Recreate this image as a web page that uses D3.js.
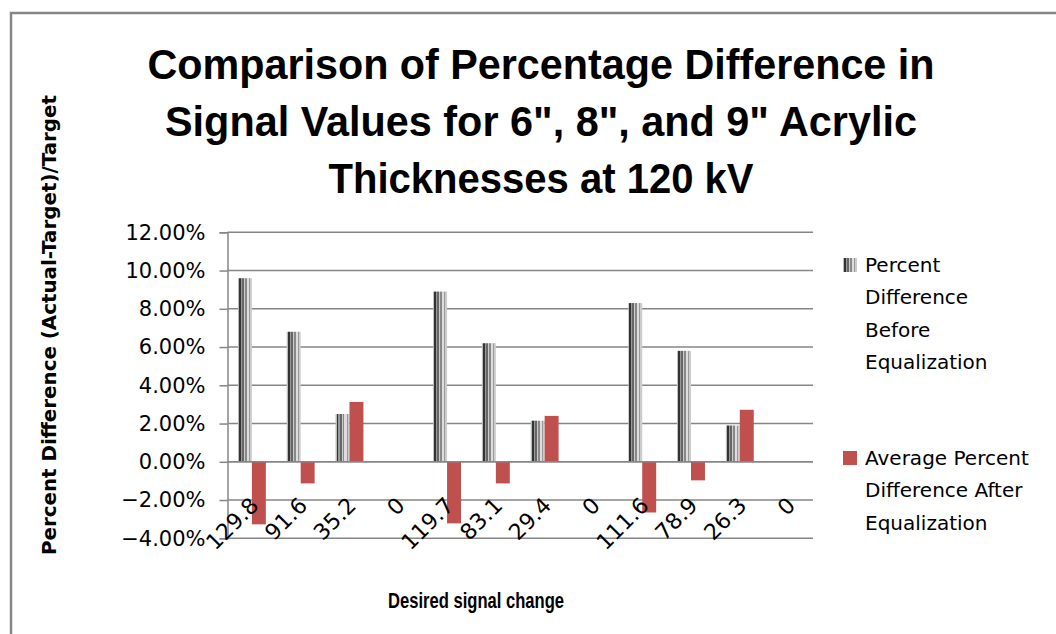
<!DOCTYPE html>
<html>
<head>
<meta charset="utf-8">
<script src="https://cdn.jsdelivr.net/npm/d3@7"></script>
<style>
  body { margin: 0; background: #fff; }
  svg { display: block; }
</style>
</head>
<body>
<div id="chart"></div>
<script>
var width = 1056,
    height = 634;

// data (percent)
var categories = ["129.8", "91.6", "35.2", "0", "119.7", "83.1", "29.4", "0", "111.6", "78.9", "26.3", "0"];
var beforeEq = [9.6, 6.8, 2.5, null, 8.9, 6.2, 2.15, null, 8.3, 5.8, 1.9, null];
var afterEq = [-3.27, -1.13, 3.13, null, -3.22, -1.13, 2.4, null, -2.65, -0.97, 2.72, null];
var seriesNames = ["Percent Difference Before Equalization", "Average Percent Difference After Equalization"];
var yTicks = [-4, -2, 0, 2, 4, 6, 8, 10, 12];

var titleLines = ["Comparison of Percentage Difference in", "Signal Values for 6\", 8\", and 9\" Acrylic", "Thicknesses at 120 kV"];
var titleWidths = [787, 752, 425];

var plot = {left: 227.5, right: 813, top: 232.3, bottom: 538.3};
var gridColor = "#868686",
    red = "#C0504D";

var svg = d3.select("#chart")
  .append("svg")
    .attr("width", width)
    .attr("height", height);

svg.append("rect").attr("width", width).attr("height", height).attr("fill", "#fff");

// striped fill for the "before" series
var defs = svg.append("defs");
var stripes = [["#bbb", 0], ["#333", 0.07], ["#999", 0.21], ["#666", 0.29], ["#ccc", 0.43], ["#888", 0.5], ["#ddd", 0.64], ["#999", 0.79], ["#ccc", 0.86]];
var grad = defs.append("linearGradient").attr("id", "stripes")
  .attr("x1", 0).attr("x2", 1).attr("y1", 0).attr("y2", 0);
stripes.forEach(function(s, i) {
  var end = i + 1 < stripes.length ? stripes[i + 1][1] : 1;
  grad.append("stop").attr("offset", s[1]).attr("stop-color", s[0]);
  grad.append("stop").attr("offset", end).attr("stop-color", s[0]);
});

// chart border (left and top visible)
svg.append("path")
  .attr("d", "M11,634 L11,13 L1056,13")
  .attr("fill", "none")
  .attr("stroke", gridColor)
  .attr("stroke-width", 2.5);

// scales
var x0 = d3.scaleBand()
  .domain(d3.range(categories.length))
  .range([plot.left, plot.right])
  .paddingInner(1.5 / 3.5)
  .paddingOuter(0.75 / 3.5);

var x1 = d3.scaleBand()
  .domain([0, 1])
  .range([0, x0.bandwidth()]);

var y = d3.scaleLinear()
  .domain([-4, 12])
  .range([plot.bottom, plot.top]);

// gridlines
svg.append("g")
  .selectAll("line")
  .data(yTicks)
  .join("line")
    .attr("x1", plot.left)
    .attr("x2", plot.right)
    .attr("y1", function(d) { return y(d); })
    .attr("y2", function(d) { return y(d); })
    .attr("stroke", gridColor)
    .attr("stroke-width", 1.5);

// y axis
var yAxis = svg.append("g")
  .attr("transform", "translate(" + plot.left + ",0)")
  .call(d3.axisLeft(y)
    .tickValues(yTicks)
    .tickSize(8)
    .tickPadding(14)
    .tickFormat(function(d) { return d3.format(".2f")(d) + "%"; }));
yAxis.select(".domain").attr("stroke", gridColor).attr("stroke-width", 1.5);
yAxis.selectAll(".tick line").attr("stroke", gridColor).attr("stroke-width", 1.5);
yAxis.selectAll(".tick text")
  .attr("fill", "#000")
  .style("font-family", "DejaVu Sans")
  .style("font-size", "21px");

// bars
var rows = categories.map(function(c, i) { return {i: i, values: [beforeEq[i], afterEq[i]]}; });

var groups = svg.append("g")
  .selectAll("g")
  .data(rows)
  .join("g")
    .attr("transform", function(d) { return "translate(" + x0(d.i) + ",0)"; });

groups.selectAll("rect")
  .data(function(d) { return d.values.map(function(v, s) { return {s: s, v: v}; }).filter(function(e) { return e.v !== null; }); })
  .join("rect")
    .attr("x", function(d) { return x1(d.s); })
    .attr("width", x1.bandwidth())
    .attr("y", function(d) { return y(Math.max(0, d.v)); })
    .attr("height", function(d) { return Math.abs(y(d.v) - y(0)); })
    .attr("fill", function(d) { return d.s === 0 ? "url(#stripes)" : red; });

// zero line drawn over bars
svg.append("line")
  .attr("x1", plot.left).attr("x2", plot.right)
  .attr("y1", y(0)).attr("y2", y(0))
  .attr("stroke", gridColor).attr("stroke-width", 1.5);

// category labels, rotated
svg.append("g")
  .selectAll("text")
  .data(categories)
  .join("text")
    .attr("transform", function(d, i) {
      return "translate(" + (x0(i) + x0.bandwidth() / 2 + 8) + "," + (y(0) + 45) + ") rotate(-45)";
    })
    .attr("text-anchor", "end")
    .style("font-family", "DejaVu Sans")
    .style("font-size", "22px")
    .text(function(d) { return d; });

// title
svg.append("g")
  .selectAll("text")
  .data(titleLines)
  .join("text")
    .attr("x", 541)
    .attr("y", function(d, i) { return 79 + i * 57; })
    .attr("text-anchor", "middle")
    .attr("textLength", function(d, i) { return titleWidths[i]; })
    .attr("lengthAdjust", "spacingAndGlyphs")
    .style("font-family", "Liberation Sans, sans-serif")
    .style("font-weight", "bold")
    .style("font-size", "42px")
    .text(function(d) { return d; });

// axis titles
svg.append("text")
  .attr("transform", "translate(56,325) rotate(-90)")
  .attr("text-anchor", "middle")
  .attr("textLength", 460)
  .attr("lengthAdjust", "spacingAndGlyphs")
  .style("font-family", "DejaVu Sans")
  .style("font-weight", "bold")
  .style("font-size", "20px")
  .text("Percent Difference (Actual-Target)/Target");

svg.append("text")
  .attr("x", 476)
  .attr("y", 608)
  .attr("text-anchor", "middle")
  .attr("textLength", 176)
  .attr("lengthAdjust", "spacingAndGlyphs")
  .style("font-family", "Liberation Sans, sans-serif")
  .style("font-weight", "bold")
  .style("font-size", "22px")
  .text("Desired signal change");

// legend
var legendLines = [["Percent", "Difference", "Before", "Equalization"], ["Average Percent", "Difference After", "Equalization"]];
var legendTop = [272, 465];
var legend = svg.append("g")
  .selectAll("g")
  .data(seriesNames)
  .join("g")
    .attr("transform", function(d, i) { return "translate(843," + legendTop[i] + ")"; });

legend.append("rect")
  .attr("x", 0).attr("y", -14)
  .attr("width", 14).attr("height", 14)
  .attr("fill", function(d, i) { return i === 0 ? "url(#stripes)" : red; });

legend.append("text")
  .style("font-family", "DejaVu Sans")
  .style("font-size", "20px")
  .selectAll("tspan")
  .data(function(d, i) { return legendLines[i]; })
  .join("tspan")
    .attr("x", 22)
    .attr("y", function(d, j) { return j * 32.3; })
    .text(function(d) { return d; });
</script>
</body>
</html>
